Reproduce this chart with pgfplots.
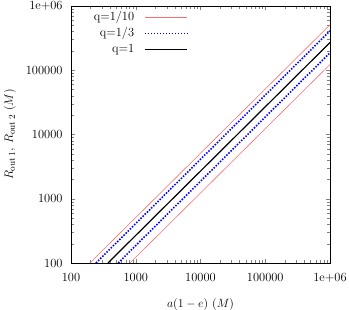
\documentclass[border=0pt]{standalone}
\usepackage{pgfplots}
\pgfplotsset{compat=1.18}
\definecolor{lred}{RGB}{255,110,110}
\definecolor{dblue}{RGB}{0,0,255}
\begin{document}
\begin{tikzpicture}
\begin{axis}[
  name=ax,
  at={(0,0)}, anchor=south west,
  scale only axis,
  width=259bp, height=257bp,
  xmode=log, ymode=log,
  xmin=100, xmax=1e6, ymin=100, ymax=1e6,
  xtick={100,1000,10000,100000,1000000},
  xticklabels={100,1000,10000,100000,1e+06},
  ytick={100,1000,10000,100000,1000000},
  yticklabels={100,1000,10000,100000,1e+06},
  tick align=inside,
  every tick label/.append style={font=\fontsize{12.5}{14}\selectfont},
  xticklabel style={yshift=-7bp},
  yticklabel style={xshift=-5bp},
  label style={font=\fontsize{12.5}{14}\selectfont},
  xlabel={$a(1-e)$ $(M)$},
  ylabel={$R_{\rm out\,1}$, $R_{\rm out\,2}$ $(M)$},
  xlabel style={at={(axis description cs:0.5,-0.163)}, anchor=center},
  ylabel style={at={(axis description cs:-0.2355,0.5)}, anchor=center},
  axis line style={line width=0.6pt},
  legend plot pos=right,
  legend cell align=right,
  legend style={draw=none, fill=none, at={(rel axis cs:0.4517,0.978)}, anchor=north east,
    inner sep=0pt, column sep=10bp, row sep=5bp,
    nodes={inner sep=0pt, text height=8.5bp, text depth=2.5bp},
    font=\fontsize{12.5}{14}\selectfont},
  legend image code/.code={\draw[#1] (0bp,0bp) -- (42bp,0bp);},
]
\addplot[lred, line width=0.6pt] coordinates {(196,100) (1000000,510000)};
\addlegendentry{q=1/10}
\addplot[dblue, line width=1.6pt, dash pattern=on 1.5pt off 1.5pt] coordinates {(243,100) (1000000,410000)};
\addlegendentry{q=1/3}
\addplot[black, line width=1.2pt] coordinates {(372,100) (1000000,270000)};
\addlegendentry{q=1}
\addplot[lred, line width=0.6pt, forget plot] coordinates {(814,100) (1000000,123000)};
\addplot[dblue, line width=1.6pt, dash pattern=on 1.5pt off 1.5pt, forget plot] coordinates {(535,100) (1000000,187000)};
\end{axis}
\pgfresetboundingbox
\path (ax.south west) ++(-71bp,-47bp) rectangle ([shift={(19bp,6bp)}]ax.north east);
\end{tikzpicture}
\end{document}
